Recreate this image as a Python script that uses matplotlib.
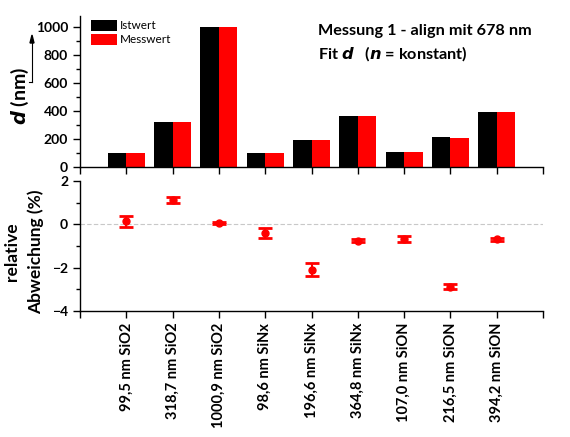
import numpy as np
import matplotlib.pyplot as plt
from matplotlib.ticker import MultipleLocator, FixedLocator

plt.rcParams['font.family'] = ['Lato', 'DejaVu Sans']

# Daten
proben = ['99,5 nm SiO2', '318,7 nm SiO2', '1000,9 nm SiO2', '98,6 nm SiNx', '196,6 nm SiNx',
          '364,8 nm SiNx', '107,0 nm SiON', '216,5 nm SiON', '394,2 nm SiON']
istwert = [99.5, 318.7, 1000.9, 98.6, 196.6, 364.8, 107.0, 216.5, 394.2]
abweichung = [0.14, 1.12, 0.08, -0.40, -2.09, -0.75, -0.68, -2.88, -0.68]
fehler = [0.25, 0.12, 0.05, 0.24, 0.30, 0.06, 0.12, 0.12, 0.07]

messwert = [i * (1 + a / 100) for i, a in zip(istwert, abweichung)]
x = np.arange(1, len(proben) + 1)

fig = plt.figure(figsize=(5.7, 4.37), dpi=100)
W, H = 570, 437
ax1 = fig.add_axes([80 / W, 1 - 167 / H, 463 / W, 151 / H])
ax2 = fig.add_axes([80 / W, 1 - 311 / H, 463 / W, 130 / H])

# oberes Diagramm: Balken
ax1.bar(x - 0.2, istwert, width=0.4, color='black', label='Istwert')
ax1.bar(x + 0.2, messwert, width=0.4, color='red', label='Messwert')
ax1.set_xlim(0, 10)
ax1.set_ylim(0, 1080)
ax1.yaxis.set_major_locator(FixedLocator([0, 200, 400, 600, 800, 1000]))
ax1.yaxis.set_minor_locator(MultipleLocator(100))
ax1.xaxis.set_major_locator(FixedLocator(range(0, 11)))
ax1.set_xticklabels([])
ax1.legend(loc='upper left', bbox_to_anchor=(0.005, 1.03), frameon=False, fontsize=8.5,
           handlelength=2.2, handleheight=1.1, handletextpad=0.3, labelspacing=0.2,
           borderpad=0.2)
ax1.text(0.515, 0.9, 'Messung 1 - align mit 678 nm', transform=ax1.transAxes,
         fontsize=11.7, fontweight='bold', va='center')
ax1.text(0.515, 0.75, r'Fit $\boldsymbol{d}$   ($\boldsymbol{n}$ = konstant)', transform=ax1.transAxes,
         fontsize=11.7, fontweight='bold', va='center')
fig.text(20 / W, 1 - 96 / H, r'$\boldsymbol{d}$ (nm)', rotation=90, fontsize=14,
         fontweight='bold', ha='center', va='center')
fig.add_artist(plt.Line2D([29 / W, 32 / W], [1 - 82 / H, 1 - 82 / H], color='black', lw=0.8))
fig.add_artist(plt.Line2D([32 / W, 32 / W], [1 - 82 / H, 1 - 40 / H], color='black', lw=0.8))
fig.add_artist(plt.Polygon([[30 / W, 1 - 43 / H], [34 / W, 1 - 43 / H], [32 / W, 1 - 35 / H]],
                           closed=True, color='black', transform=fig.transFigure))

# unteres Diagramm: relative Abweichung
ax2.axhline(0, color='#c8c8c8', lw=0.8, ls='--', dashes=(4, 2))
ax2.errorbar(x, abweichung, yerr=fehler, fmt='o', color='red', ms=5,
             capsize=5, capthick=2, elinewidth=1.5)
ax2.set_xlim(0, 10)
ax2.set_ylim(-4, 2)
ax2.yaxis.set_major_locator(FixedLocator([-4, -2, 0, 2]))
ax2.yaxis.set_minor_locator(MultipleLocator(1))
ax2.xaxis.set_major_locator(FixedLocator(range(0, 11)))
ax2.set_xticklabels([''] + proben + [''], rotation=90, fontsize=10.5, fontweight='bold')
fig.text(24 / W, 1 - 252 / H, 'relative\nAbweichung (%)', rotation=90, fontsize=12.5,
         fontweight='bold', ha='center', va='center', ma='center', linespacing=1.5)

for ax in (ax1, ax2):
    for s in ('top', 'right'):
        ax.spines[s].set_visible(False)
    for s in ('left', 'bottom'):
        ax.spines[s].set_linewidth(1.0)
    ax.tick_params(direction='out', length=5, width=1, labelsize=10)
    ax.tick_params(which='minor', direction='out', length=3, width=1)
    for lab in ax.get_yticklabels():
        lab.set_fontweight('bold')
for lab in ax2.get_xticklabels():
    lab.set_fontsize(10.5)

fig.savefig('out.png', dpi=100)
